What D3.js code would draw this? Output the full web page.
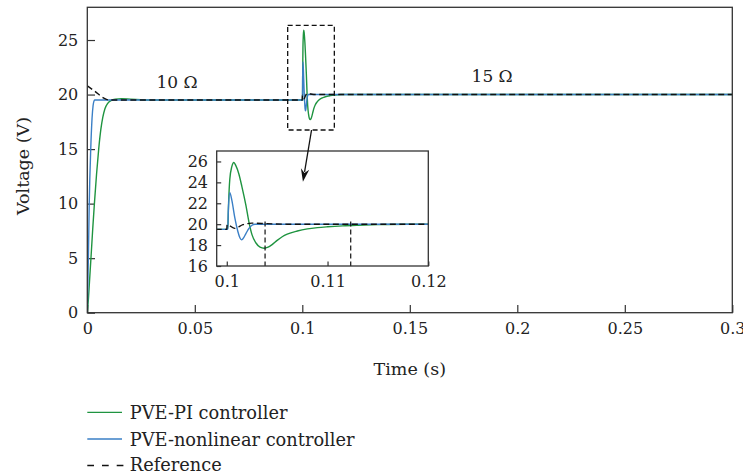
<!DOCTYPE html>
<html><head><meta charset="utf-8">
<script src="https://cdn.jsdelivr.net/npm/d3@7"></script>
<style>
body{margin:0;background:#fff}
svg{display:block}
text{font-family:"DejaVu Serif",serif;fill:#222}
</style>
</head><body>
<svg id="c" width="743" height="474" font-family="DejaVu Serif, serif"></svg>
<script>
// ---------- data ----------
const piTime = [0,0.0005,0.001,0.0017,0.0025,0.0033,0.0043,0.0053,0.0063,0.0072,0.0082,0.0095,0.011,0.013,0.016,0.02,0.03,
  0.1001,0.10018,0.1003,0.1005,0.1007,0.1009,0.1012,0.1015,0.1019,0.1022,0.1025,0.1029,0.1033,0.1037,0.1041,0.1045,0.105,0.1055,0.106,0.107,0.108,0.109,0.11,0.1115,0.113,0.115,0.118,0.3];
const piVolt = [0,1.2,2.8,5,7.6,10,12.7,15,16.8,17.9,18.7,19.2,19.45,19.58,19.62,19.58,19.5,
  19.5,22,24.3,25.5,25.9,25.6,24.8,23.6,21.8,20.2,19.0,18.2,17.8,17.7,17.8,18.05,18.45,18.8,19.05,19.35,19.55,19.67,19.75,19.84,19.9,19.96,20,20];

const nlTime = [0,0.0003,0.0005,0.0009,0.0016,0.0022,0.0027,0.0031,0.0034,
  0.1001,0.10015,0.1003,0.1005,0.1008,0.1011,0.1013,0.10146,0.1016,0.1019,0.1022,0.1025,0.1028,0.3];
const nlVolt = [0,3,5,10,15,17.8,19,19.4,19.5,
  19.5,21.2,23,22.3,20.6,19.3,18.7,18.5,18.6,19.1,19.6,19.9,20,20];

const refTime = [0,0.0035,0.0075,0.01,0.1,0.10003,0.1008,0.1016,0.1025,0.104,0.106,0.3];
const refVolt = [20.8,20.3,19.7,19.5,19.5,19.95,19.6,19.95,20.1,20.05,20,20];

const xTicks = [0,0.05,0.1,0.15,0.2,0.25,0.3];
const xTickLabels = ["0","0.05","0.1","0.15","0.2","0.25","0.3"];
const yTicks = [0,5,10,15,20,25];
const insetXTicks = [0.1,0.11,0.12];
const insetXTickLabels = ["0.1","0.11","0.12"];
const insetYTicks = [16,18,20,22,24,26];
const insetMarkers = [0.1038,0.1123];
const loadLabels = [{t:0.0417,v:20.0,text:"10 \u03A9"},{t:0.1883,v:20.6,text:"15 \u03A9"}];
const seriesNames = ["PVE-PI controller","PVE-nonlinear controller","Reference"];

// ---------- styling ----------
const GREEN = "#1f9440", BLUE = "#3a7fc6", BLACK = "#111", AX = "#333";
const FONT = '"DejaVu Serif",serif';

const svg = d3.select("#c");
const L = 87.3, R = 732.3, T = 7.3, B = 312.7;
const x = d3.scaleLinear().domain([0,0.3]).range([L,R]);
const y = d3.scaleLinear().domain([0,28]).range([B,T]);

const defs = svg.append("defs");
defs.append("clipPath").attr("id","mainClip").append("rect")
  .attr("x",L).attr("y",T).attr("width",R-L).attr("height",B-T);

const series = [
  {t:piTime,v:piVolt,color:GREEN,dash:null},
  {t:nlTime,v:nlVolt,color:BLUE,dash:null},
  {t:refTime,v:refVolt,color:BLACK,dash:"6,3.5"}
];

function drawSeries(g, xs, ys, clip){
  const line = d3.line().x(d=>xs(d[0])).y(d=>ys(d[1])).curve(d3.curveMonotoneX);
  series.forEach(s=>{
    g.append("path").datum(d3.zip(s.t,s.v))
      .attr("clip-path","url(#"+clip+")")
      .attr("d",line).attr("fill","none").attr("stroke",s.color)
      .attr("stroke-width",1.4).attr("stroke-dasharray",s.dash);
  });
}
function styleAxis(g){
  g.attr("font-family",FONT);
  g.select(".domain").remove();
  g.selectAll("line").attr("stroke",AX).attr("stroke-width",1.2);
  g.selectAll("text").attr("font-size",16).attr("fill","#222").attr("font-family",FONT);
}
function addText(sel){ return sel.append("text").attr("font-family",FONT).attr("fill","#222"); }

// main axes
const xAxis = d3.axisBottom(x).tickValues(xTicks).tickFormat((d,i)=>xTickLabels[i])
  .tickSizeInner(-7.7).tickSizeOuter(0).tickPadding(10.2);
const yAxis = d3.axisLeft(y).tickValues(yTicks).tickFormat(d3.format("d"))
  .tickSizeInner(-7.7).tickSizeOuter(0).tickPadding(9);
const gx = svg.append("g").attr("transform",`translate(0,${B})`).call(xAxis);
const gy = svg.append("g").attr("transform",`translate(${L},0)`).call(yAxis);
styleAxis(gx); styleAxis(gy);

drawSeries(svg.append("g"), x, y, "mainClip");

svg.append("rect").attr("x",L).attr("y",T).attr("width",R-L).attr("height",B-T)
  .attr("fill","none").attr("stroke",AX).attr("stroke-width",1.3);

// load labels
loadLabels.forEach(d=>{
  addText(svg).attr("x",x(d.t)).attr("y",y(d.v)-6.5).attr("text-anchor","middle")
    .attr("font-size",17).text(d.text);
});

// zoom box in main plot
svg.append("rect").attr("x",x(0.0932)).attr("y",y(26.34))
  .attr("width",x(0.1149)-x(0.0932)).attr("height",y(16.75)-y(26.34))
  .attr("fill","none").attr("stroke",BLACK).attr("stroke-width",1.3).attr("stroke-dasharray","5,3");

// inset
const IL = 216.7, IR = 428.3, IT = 151, IB = 266;
const ix = d3.scaleLinear().domain([0.099,0.12]).range([IL,IR]);
const iy = d3.scaleLinear().domain([16,27]).range([IB,IT]);
defs.append("clipPath").attr("id","insetClip").append("rect")
  .attr("x",IL).attr("y",IT).attr("width",IR-IL).attr("height",IB-IT);
const ins = svg.append("g");
ins.append("rect").attr("x",IL).attr("y",IT).attr("width",IR-IL).attr("height",IB-IT).attr("fill","#fff");
const ixAxis = d3.axisBottom(ix).tickValues(insetXTicks).tickFormat((d,i)=>insetXTickLabels[i])
  .tickSizeInner(-4.5).tickSizeOuter(0).tickPadding(9.2);
const iyAxis = d3.axisLeft(iy).tickValues(insetYTicks).tickFormat(d3.format("d"))
  .tickSizeInner(-4.5).tickSizeOuter(0).tickPadding(8.7);
const igx = ins.append("g").attr("transform",`translate(0,${IB})`).call(ixAxis);
const igy = ins.append("g").attr("transform",`translate(${IL},0)`).call(iyAxis);
styleAxis(igx); styleAxis(igy);
drawSeries(ins.append("g"), ix, iy, "insetClip");
insetMarkers.forEach(t=>{
  ins.append("line").attr("x1",ix(t)).attr("x2",ix(t)).attr("y1",iy(20.25)).attr("y2",iy(16))
    .attr("stroke",BLACK).attr("stroke-width",1.2).attr("stroke-dasharray","5,3");
});
ins.append("rect").attr("x",IL).attr("y",IT).attr("width",IR-IL).attr("height",IB-IT)
  .attr("fill","none").attr("stroke",AX).attr("stroke-width",1.3);

// arrow (drawn over the inset)
const a0 = [x(0.1043), y(16.75)], a1 = [x(0.1003), y(12.0)];
const ang = Math.atan2(a1[1]-a0[1], a1[0]-a0[0]);
const hl = 13, hw = 4.2;
const back = [a1[0]-hl*Math.cos(ang), a1[1]-hl*Math.sin(ang)];
svg.append("line").attr("x1",a0[0]).attr("y1",a0[1]).attr("x2",back[0]+3*Math.cos(ang)).attr("y2",back[1]+3*Math.sin(ang))
  .attr("stroke",BLACK).attr("stroke-width",1.3);
svg.append("path").attr("fill",BLACK).attr("d",
  `M${a1[0]},${a1[1]} L${back[0]+hw*Math.sin(ang)},${back[1]-hw*Math.cos(ang)} L${a1[0]-(hl-4)*Math.cos(ang)},${a1[1]-(hl-4)*Math.sin(ang)} L${back[0]-hw*Math.sin(ang)},${back[1]+hw*Math.cos(ang)} Z`);

// axis titles
addText(svg).attr("x",(L+R)/2).attr("y",375).attr("text-anchor","middle")
  .attr("font-size",17.5).text("Time (s)");
addText(svg).attr("transform",`translate(29,${(T+B)/2+6}) rotate(-90)`).attr("text-anchor","middle")
  .attr("font-size",17.5).text("Voltage (V)");

// legend
const lg = svg.append("g");
const legY = [412.3,439,465.5];
const legTextY = [418.8,445.5,471.3];
series.forEach((s,i)=>{
  lg.append("line").attr("x1",87.3).attr("x2",s.dash?123.4:122).attr("y1",legY[i]).attr("y2",legY[i])
    .attr("stroke",s.color).attr("stroke-width",1.3).attr("stroke-dasharray",s.dash?"6.7,8":null);
  addText(lg).attr("x",129.8).attr("y",legTextY[i]).attr("font-size",17.8).text(seriesNames[i]);
});
</script>
</body></html>
